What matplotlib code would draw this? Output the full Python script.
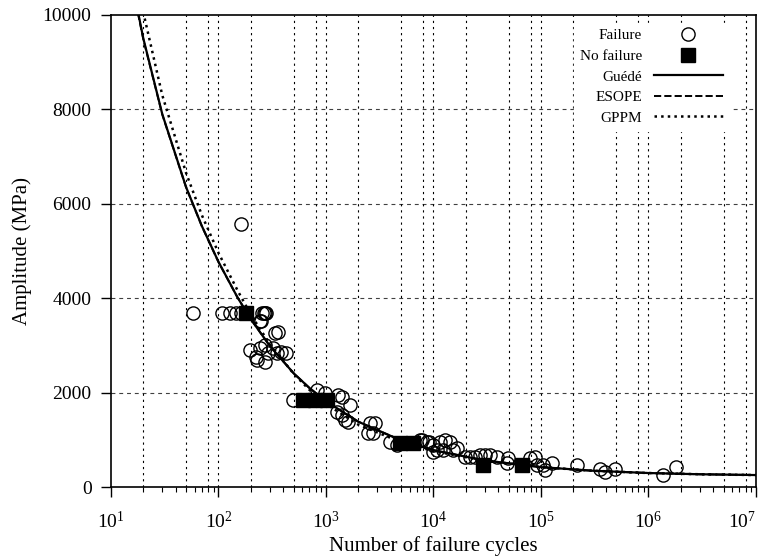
import numpy as np
import matplotlib.pyplot as plt
from matplotlib.ticker import LogLocator, NullFormatter

plt.rcParams['font.family'] = 'serif'
plt.rcParams['font.serif'] = ['Liberation Serif', 'DejaVu Serif']
plt.rcParams['mathtext.fontset'] = 'custom'
plt.rcParams['mathtext.rm'] = 'Liberation Serif'

# failure tests (cycles, amplitude MPa)
fail_n = [58, 108, 127, 145, 162, 256, 263, 269, 277, 241, 248,
          162,
          196, 223, 243, 271, 289, 321, 350, 381, 424, 228, 271, 336, 357,
          493, 824, 977, 1294, 1410, 1671, 1265, 1410, 1503, 1600,
          2566, 2857, 2459, 2738, 3936, 4571,
          7480, 8700, 9893, 10790, 7820, 9000, 9900, 11500, 12790, 14230,
          12200, 15200, 16600, 19630, 21880, 24400, 27100, 30300, 33600,
          39000, 49300, 48000, 79000, 88000, 91000, 104000, 109000, 126000,
          216000, 354000, 394000, 488000, 1360000, 1800000]
fail_s = [3686, 3686, 3686, 3686, 3686, 3686, 3686, 3686, 3686, 3520, 3520,
          5570,
          2903, 2754, 2945, 3008, 2839, 2945, 2839, 2860, 2839, 2690, 2648, 3263, 3284,
          1843, 2055, 1991, 1949, 1907, 1737, 1589, 1525, 1419, 1377,
          1356, 1356, 1144, 1144, 953, 890,
          996, 953, 890, 784, 996, 953, 741, 953, 996, 953,
          784, 784, 826, 636, 636, 636, 678, 678, 678,
          636, 614, 508, 614, 636, 466, 466, 360, 508,
          466, 381, 318, 381, 254, 424]

# run-outs
nofail_n = [180, 611, 790, 1021, 4875, 6444, 28800, 66500]
nofail_s = [3686, 1843, 1843, 1843, 942, 942, 466, 466]

# fitted curves
curve_n = [17, 20, 30, 50, 70, 100, 150, 200, 300, 500, 700, 1000, 2000,
           5000, 1e4, 3e4, 1e5, 3e5, 1e6, 3e6, 1e7]
guede_s = [10300, 9500, 7900, 6350, 5530, 4770, 4020, 3555, 2990, 2410,
           2100, 1815, 1383, 986, 780, 562, 421, 345, 296, 270, 253]
esope_s = [10260, 9480, 7890, 6345, 5525, 4765, 4020, 3555, 2990, 2410,
           2100, 1815, 1383, 986, 780, 562, 421, 345, 296, 270, 253]
gppm_s = [11000, 10050, 8300, 6650, 5760, 4960, 4170, 3650, 3030, 2400,
          2060, 1760, 1320, 950, 760, 555, 420, 345, 296, 270, 253]

x_ticks = [1e1, 1e2, 1e3, 1e4, 1e5, 1e6, 1e7]
y_ticks = [0, 2000, 4000, 6000, 8000, 10000]

fig = plt.figure(figsize=(7.66, 5.59), dpi=100)
ax = fig.add_axes([0.1449, 0.1288, 0.842, 0.8444])

ax.set_xscale('log')
ax.set_xlim(10, 1e7)
ax.set_ylim(0, 10000)

# grid: dashed horizontals at majors, dotted verticals at 2, 5, 8 and decades
for yv in y_ticks[1:-1]:
    ax.axhline(yv, color='0.25', lw=0.8, dashes=(3.5, 3.5), zorder=0)
for d in range(1, 7):
    for k in [2, 5, 8, 10]:
        if k * 10 ** d < 1e7:
            ax.axvline(k * 10 ** d, color='black', lw=0.8, dashes=(2, 3.5), zorder=0)

ax.plot(fail_n, fail_s, 'o', ms=9.5, mfc='none', mec='black', mew=1.0,
        label='Failure', zorder=3)
ax.plot(nofail_n, nofail_s, 's', ms=10, color='black', label='No failure', zorder=4)
ax.plot(curve_n, guede_s, '-', color='black', lw=1.6, label='Guédé', zorder=5)
ax.plot(curve_n, esope_s, '--', color='black', lw=1.4, label='ESOPE', zorder=5)
ax.plot(curve_n, gppm_s, ':', color='black', lw=1.8, label='GPPM', zorder=5)

ax.set_xticks(x_ticks)
ax.xaxis.set_minor_locator(LogLocator(base=10, subs=np.arange(2, 10), numticks=20))
ax.xaxis.set_minor_formatter(NullFormatter())
ax.set_yticks(y_ticks)

ax.tick_params(axis='both', which='major', direction='out', length=7, width=1,
               labelsize=14, top=False, right=False)
ax.tick_params(axis='y', which='major', pad=7)
ax.tick_params(axis='x', which='major', pad=10)
ax.tick_params(axis='x', which='minor', direction='out', length=3.5, width=0.8)
for sp in ax.spines.values():
    sp.set_linewidth(1.2)

# keep the last decade label inside the figure
ax.xaxis.get_major_ticks()[-1].label1.set_horizontalalignment('right')

ax.set_xlabel('Number of failure cycles', fontsize=15, labelpad=3)
ax.set_ylabel('Amplitude (MPa)', fontsize=15, labelpad=8)

leg = ax.legend(loc='upper right', bbox_to_anchor=(0.97, 1.0), markerfirst=False,
                fontsize=11, handlelength=4.5, handletextpad=0.8, labelspacing=0.45,
                frameon=True, fancybox=False, borderpad=0.4)
leg.get_frame().set_edgecolor('white')
leg.get_frame().set_facecolor('white')
leg.get_frame().set_alpha(1)
leg.set_zorder(6)

fig.savefig('out.png', dpi=100)
